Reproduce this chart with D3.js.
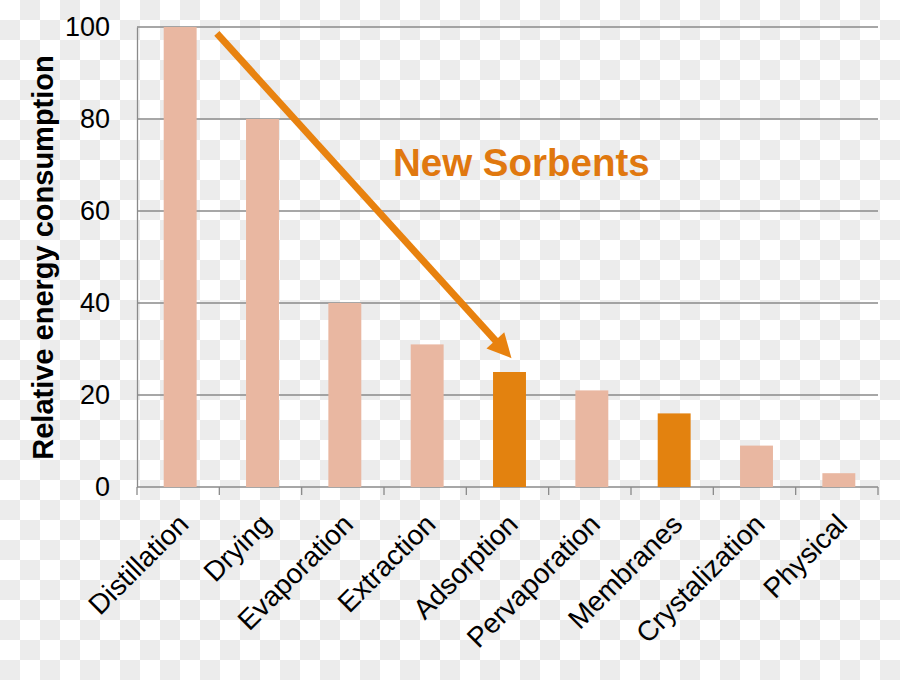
<!DOCTYPE html>
<html>
<head>
<meta charset="utf-8">
<script src="https://cdn.jsdelivr.net/npm/d3@7"></script>
<style>
  html, body { margin: 0; padding: 0; background: #ffffff; }
  svg { display: block; font-family: "Liberation Sans", Arial, sans-serif; }
</style>
</head>
<body>
<svg id="chart" width="900" height="680"></svg>
<script>
// ---- data ----
const categories = ["Distillation", "Drying", "Evaporation", "Extraction", "Adsorption",
                    "Pervaporation", "Membranes", "Crystalization", "Physical"];
const values = [100, 80, 40, 31, 25, 21, 16, 9, 3];
const highlighted = ["Adsorption", "Membranes"];
const yTicks = [0, 20, 40, 60, 80, 100];
const yTitle = "Relative energy consumption";
const annotation = "New Sorbents";
const arrowFrom = { category: "Drying", value: 98.6 };
const arrowTo = { category: "Adsorption", value: 28 };

// ---- layout ----
const W = 900, H = 680;
const margin = { left: 137, right: 22, top: 27, bottom: 193 };
const plotW = W - margin.left - margin.right;
const plotH = H - margin.top - margin.bottom;

const svg = d3.select("#chart");

// checkerboard background (transparent image look)
const sq = 20;
const cells = [];
for (let r = 0; r < Math.ceil(H / sq); r++) {
  for (let c = 0; c < Math.ceil(W / sq); c++) {
    if ((r + c) % 2 === 1) cells.push({ r, c });
  }
}
svg.append("rect").attr("width", W).attr("height", H).attr("fill", "#ffffff");
svg.append("g").selectAll("rect").data(cells).join("rect")
  .attr("x", d => d.c * sq).attr("y", d => d.r * sq)
  .attr("width", sq).attr("height", sq).attr("fill", "#ececec");

const x = d3.scaleBand().domain(categories)
  .range([margin.left, margin.left + plotW])
  .paddingInner(0.6).paddingOuter(0.3);
const y = d3.scaleLinear().domain([0, 100]).range([margin.top + plotH, margin.top]);
const shift = 2;

// gridlines
svg.append("g").selectAll("line").data(yTicks.filter(d => d > 0)).join("line")
  .attr("x1", margin.left).attr("x2", margin.left + plotW)
  .attr("y1", d => y(d)).attr("y2", d => y(d))
  .attr("stroke", "#8a8a8a").attr("stroke-width", 1.3);

// y axis
const yAxis = svg.append("g").attr("transform", `translate(${margin.left},0)`)
  .call(d3.axisLeft(y).tickValues(yTicks).tickSize(0).tickPadding(27));
yAxis.select(".domain").attr("stroke", "#8a8a8a").attr("stroke-width", 1.3);
yAxis.selectAll("text").attr("font-size", 27).attr("fill", "#000")
  .attr("font-family", "Liberation Sans, Arial, sans-serif");

// x axis baseline and ticks at category boundaries
const step = x.step();
const boundaries = categories.map(c => x(c) - step * x.paddingInner() / 2)
  .concat([margin.left + plotW]);
svg.append("line")
  .attr("x1", margin.left).attr("x2", margin.left + plotW)
  .attr("y1", y(0)).attr("y2", y(0))
  .attr("stroke", "#8a8a8a").attr("stroke-width", 1.3);
svg.append("g").selectAll("line").data(boundaries).join("line")
  .attr("x1", d => d).attr("x2", d => d)
  .attr("y1", y(0)).attr("y2", y(0) + 8)
  .attr("stroke", "#8a8a8a").attr("stroke-width", 1.3);

// bars
svg.append("g").selectAll("rect").data(categories).join("rect")
  .attr("x", d => x(d) + shift)
  .attr("width", x.bandwidth())
  .attr("y", (d, i) => y(values[i]))
  .attr("height", (d, i) => y(0) - y(values[i]))
  .attr("fill", d => highlighted.includes(d) ? "#e3820f" : "#e9b7a1");

// x labels rotated
svg.append("g").selectAll("text").data(categories).join("text")
  .attr("transform", d => `translate(${x(d) + x.bandwidth() / 2 + 12},${y(0) + 39}) rotate(-45)`)
  .attr("text-anchor", "end")
  .attr("font-size", 28)
  .attr("fill", "#000")
  .text(d => d);

// y title
svg.append("text")
  .attr("transform", `translate(53,${(55 + 460) / 2}) rotate(-90)`)
  .attr("text-anchor", "middle")
  .attr("font-size", 29)
  .attr("font-weight", "bold")
  .attr("fill", "#000")
  .text(yTitle);

// annotation arrow
const ax0 = x(arrowFrom.category) - step * 0.33, ay0 = y(arrowFrom.value);
const ax1 = x(arrowTo.category) + x.bandwidth() / 2 + 4, ay1 = y(arrowTo.value);
const dx = ax1 - ax0, dy = ay1 - ay0, len = Math.hypot(dx, dy);
const ux = dx / len, uy = dy / len;
const headL = 24, headW = 12;
const bx = ax1 - ux * headL, by = ay1 - uy * headL;
svg.append("line")
  .attr("x1", ax0).attr("y1", ay0).attr("x2", bx + ux * 2).attr("y2", by + uy * 2)
  .attr("stroke", "#e8820f").attr("stroke-width", 7);
svg.append("path")
  .attr("d", `M${ax1},${ay1} L${bx - uy * headW},${by + ux * headW} L${bx + uy * headW},${by - ux * headW} Z`)
  .attr("fill", "#e8820f");

svg.append("text")
  .attr("x", 393).attr("y", 176)
  .attr("font-size", 38.5)
  .attr("font-weight", "bold")
  .attr("fill", "#e0780f")
  .text(annotation);
</script>
</body>
</html>
